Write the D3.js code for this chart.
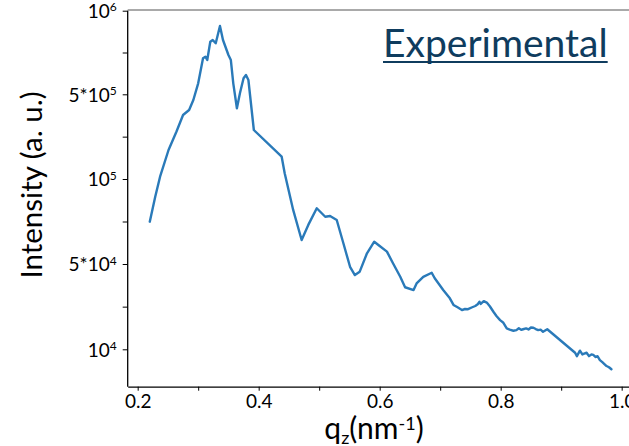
<!DOCTYPE html>
<html lang="en">
<head>
<meta charset="utf-8">
<title>Experimental intensity vs qz</title>
<script src="https://cdn.jsdelivr.net/npm/d3@7"></script>
<style>
  body { margin: 0; background: #fff; }
  svg { display: block; font-family: Lato, "Noto Sans", sans-serif; }
</style>
</head>
<body>
<svg width="629" height="446"></svg>
<script>
// data
var qz = [0.220, 0.229, 0.237, 0.251, 0.264, 0.275, 0.285, 0.292, 0.300, 0.308,
  0.312, 0.315, 0.320, 0.324, 0.329, 0.336, 0.341, 0.350, 0.354, 0.358,
  0.364, 0.369, 0.375, 0.379, 0.383, 0.392, 0.438, 0.443, 0.457, 0.471,
  0.482, 0.496, 0.510, 0.518, 0.529, 0.540, 0.551, 0.559, 0.567, 0.579,
  0.591, 0.600, 0.612, 0.622, 0.634, 0.642, 0.656, 0.661, 0.672, 0.686,
  0.691, 0.705, 0.710, 0.716, 0.722, 0.728, 0.736, 0.741, 0.746, 0.752,
  0.758, 0.762, 0.765, 0.767, 0.772, 0.777, 0.782, 0.788, 0.793, 0.799,
  0.804, 0.810, 0.815, 0.821, 0.826, 0.830, 0.834, 0.837, 0.842, 0.846,
  0.850, 0.854, 0.858, 0.862, 0.866, 0.870, 0.877, 0.923, 0.926, 0.931,
  0.935, 0.938, 0.942, 0.946, 0.950, 0.953, 0.957, 0.960, 0.964, 0.968,
  0.971, 0.975, 0.979, 0.983];

var intensity = [74900, 89600, 110800, 236900, 323400, 402200, 425800, 473100, 565800, 715300,
  724900, 705100, 814600, 824800, 805000, 908500, 824800, 735000, 705100, 565800,
  433900, 506000, 595700, 615400, 585500, 331400, 205300, 126900, 81800, 64100,
  73000, 82800, 77800, 78200, 75900, 62200, 48700, 44800, 46400, 56300,
  63100, 60600, 57300, 50400, 44000, 39100, 37800, 40900, 44000, 45900,
  43300, 37800, 36000, 33900, 30800, 29800, 28400, 28900, 28800, 29600,
  30300, 31100, 32300, 31300, 32600, 31900, 30200, 27600, 25600, 23700,
  22600, 19800, 19200, 18700, 19000, 19900, 19100, 19400, 19800, 19300,
  20200, 20100, 19500, 19000, 19200, 18200, 19400, 9800, 9600, 9920,
  9700, 9750, 9800, 9600, 9700, 9670, 9550, 9600, 9370, 9250,
  9150, 9020, 8950, 8830];

var xTicks = [0.2, 0.3, 0.4, 0.5, 0.6, 0.7, 0.8, 0.9, 1.0];
var xLabelTicks = [0.2, 0.4, 0.6, 0.8, 1.0];

// y axis is labelled at equal steps: 10^4, 5*10^4, 10^5, 5*10^5, 10^6
var yStops = [5e3, 1e4, 5e4, 1e5, 5e5, 1e6];
var yTicks = [1e4, 5e4, 1e5, 5e5, 1e6];
var yMinorTicks = [3e4, 7.5e4, 3e5, 7.5e5];

var data = qz.map(function(q, i) { return {q: q, v: intensity[i]}; });

// layout
var plotLeft = 127.7, plotBottom = 386.7, plotTop = 10.7, plotRight = 629;

var x = d3.scaleLinear()
    .domain([0.1835, 1.0121])
    .range([plotLeft, plotRight]);

var y = d3.scaleLinear()
    .domain(yStops)
    .range([434.6, 349.3, 264, 179, 94.3, plotTop]);

var svg = d3.select("svg");

// frame top line
svg.append("line")
    .attr("x1", plotLeft).attr("x2", plotRight)
    .attr("y1", 10).attr("y2", 10)
    .attr("stroke", "#555")
    .attr("stroke-width", 1);

// x axis
var xAxis = d3.axisBottom(x)
    .tickValues(xTicks)
    .tickSizeInner(4)
    .tickSizeOuter(0)
    .tickPadding(4)
    .tickFormat(function(d) {
      return xLabelTicks.some(function(t) { return Math.abs(t - d) < 1e-9; }) ? d3.format(".1f")(d) : "";
    });

var gx = svg.append("g")
    .attr("transform", "translate(0," + plotBottom + ")")
    .call(xAxis);
gx.select(".domain").attr("stroke-width", 1.3);
gx.selectAll(".tick line").attr("stroke-width", 1);
gx.selectAll(".tick text")
    .attr("font-family", "Lato, sans-serif")
    .attr("font-size", 19)
    .attr("fill", "#000");

// y axis
var yAxis = d3.axisLeft(y)
    .tickValues(yTicks.concat(yMinorTicks))
    .tickSizeInner(5)
    .tickSizeOuter(0)
    .tickPadding(6)
    .tickFormat("");

var gy = svg.append("g")
    .attr("transform", "translate(" + plotLeft + ",0)")
    .call(yAxis);
gy.select(".domain").remove();
gy.append("line")
    .attr("x1", 0).attr("x2", 0)
    .attr("y1", plotTop).attr("y2", plotBottom)
    .attr("stroke", "#000")
    .attr("stroke-width", 1.3);

gy.selectAll(".tick")
  .filter(function(d) { return yTicks.indexOf(d) >= 0; })
  .select("text")
    .attr("font-family", "Lato, sans-serif")
    .attr("font-size", 19)
    .attr("fill", "#000")
    .attr("dy", "0.36em")
    .each(function(d) {
      var e = Math.floor(Math.log10(d) + 1e-9);
      var m = Math.round(d / Math.pow(10, e));
      var t = d3.select(this).text(null);
      t.append("tspan").text((m === 1 ? "" : m + "*") + "10");
      t.append("tspan")
        .attr("font-size", 12)
        .attr("dy", "-0.55em")
        .text(e);
    });

// line
var line = d3.line()
    .x(function(d) { return x(d.q); })
    .y(function(d) { return y(d.v); });

svg.append("path")
    .datum(data)
    .attr("fill", "none")
    .attr("stroke", "#2a7ab9")
    .attr("stroke-width", 2.4)
    .attr("stroke-linejoin", "round")
    .attr("stroke-linecap", "round")
    .attr("d", line);

// axis titles
var xt = svg.append("text")
    .attr("x", 374)
    .attr("y", 439)
    .attr("text-anchor", "middle")
    .attr("font-size", 30)
    .attr("fill", "#000");
xt.append("tspan").text("q");
xt.append("tspan").attr("font-size", 18).attr("dy", "0.25em").text("z");
xt.append("tspan").attr("dy", "-0.16em").text("(nm");
xt.append("tspan").attr("font-size", 18).attr("dy", "-0.5em").text("-1");
xt.append("tspan").attr("dy", "0.3em").text(")");

svg.append("text")
    .attr("transform", "translate(42,185) rotate(-90)")
    .attr("text-anchor", "middle")
    .attr("font-size", 29.5)
    .attr("fill", "#000")
    .text("Intensity (a. u.)");

// panel label
var label = svg.append("text")
    .attr("x", 383)
    .attr("y", 57)
    .attr("font-size", 39)
    .attr("fill", "#0f3c5e")
    .text("Experimental");
var lw = label.node().getComputedTextLength();
svg.append("line")
    .attr("x1", 383).attr("x2", 383 + lw)
    .attr("y1", 62).attr("y2", 62)
    .attr("stroke", "#0f3c5e")
    .attr("stroke-width", 2.2);
</script>
</body>
</html>
